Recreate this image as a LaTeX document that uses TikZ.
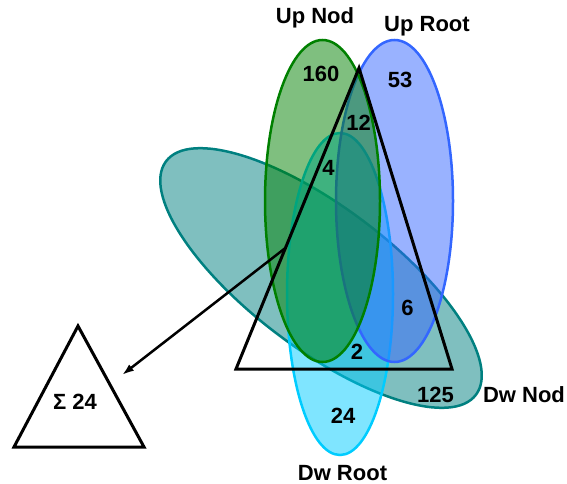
\documentclass[tikz,border=0pt]{standalone}
\usepackage{fontspec}
\setmainfont{Liberation Sans}
\usetikzlibrary{arrows.meta}
\definecolor{cnod}{HTML}{008000}
\definecolor{croot}{HTML}{3366FF}
\definecolor{cdroot}{HTML}{00CCFF}
\definecolor{cdnod}{HTML}{008080}
\tikzset{
  venn/.style={line width=2.5pt, fill opacity=0.5},
  lbl/.style={anchor=base, inner sep=0pt, font=\fontsize{22}{26}\selectfont\bfseries},
  tri/.style={line width=3pt, line join=miter},
}
\begin{document}
\begin{tikzpicture}[x=1pt,y=-1pt]
\useasboundingbox (0,0) rectangle (567,484);
% ellipses
\draw[venn, draw=cdnod, fill=cdnod, rotate around={-37:(321,278)}] (321,278) ellipse [x radius=194, y radius=71];
\draw[venn, draw=cdroot, fill=cdroot] (340,294) ellipse [x radius=53, y radius=161];
\draw[venn, draw=croot, fill=croot] (394.5,201) ellipse [x radius=58.5, y radius=161];
\draw[venn, draw=cnod, fill=cnod] (322.5,201) ellipse [x radius=57.5, y radius=161];
% big triangle
\coordinate (A) at (359,68);
\coordinate (B) at (236,369);
\coordinate (C) at (452,369);
\draw[tri] (A) -- (B) -- (C) -- cycle;
% small triangle
\coordinate (a) at (78,326);
\coordinate (b) at (14,447);
\coordinate (c) at (144,447);
\draw[tri] (a) -- (b) -- (c) -- cycle;
% arrow
\coordinate (s) at (285.4,248);
\coordinate (e) at (122,375);
\draw[line width=2.5pt, -{Latex[length=12pt,width=8pt]}] (s) -- (e);
% labels
\node[lbl] (upnod) at (315,24) {Up Nod};
\node[lbl] (uproot) at (427,32) {Up Root};
\node[lbl] (n160) at (321,82) {160};
\node[lbl] (n53) at (400,88) {53};
\node[lbl] (n12) at (358.5,131) {12};
\node[lbl] (n4) at (328.5,175) {4};
\node[lbl] (n6) at (407.5,315) {6};
\node[lbl] (n2) at (357,359) {2};
\node[lbl] (n125) at (435.5,402) {125};
\node[lbl] (n24) at (343,423) {24};
\node[lbl] (dwnod) at (524,402) {Dw Nod};
\node[lbl] (dwroot) at (342.5,480) {Dw Root};
\node[lbl] (sum) at (75,409) {Σ 24};
\end{tikzpicture}
\end{document}
